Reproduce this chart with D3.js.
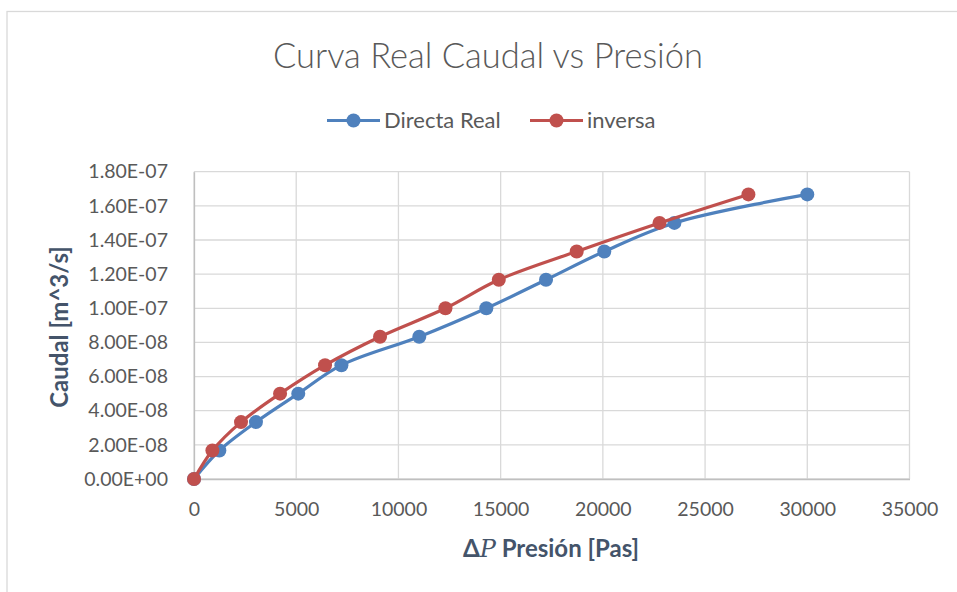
<!DOCTYPE html>
<html>
<head>
<meta charset="utf-8">
<script src="https://cdn.jsdelivr.net/npm/d3@7"></script>
<style>
  html, body { margin: 0; padding: 0; background: #fff; }
  svg { display: block; font-family: Lato, "Open Sans", sans-serif; }
</style>
</head>
<body>
<svg id="chart" width="957" height="592"></svg>
<script>
// Pressure drop [Pa] and flow rate [m^3/s] for each series
const directaPresion = [0, 1240, 3030, 5100, 7210, 11020, 14300, 17220, 20070, 23500, 30000];
const directaCaudal  = [0, 1.667e-8, 3.333e-8, 5.0e-8, 6.667e-8, 8.333e-8, 1.0e-7, 1.167e-7, 1.333e-7, 1.5e-7, 1.667e-7];
const inversaPresion = [0, 900, 2300, 4210, 6410, 9100, 12300, 14910, 18720, 22770, 27120];
const inversaCaudal  = [0, 1.667e-8, 3.333e-8, 5.0e-8, 6.667e-8, 8.333e-8, 1.0e-7, 1.167e-7, 1.333e-7, 1.5e-7, 1.667e-7];

const xTicks = [0, 5000, 10000, 15000, 20000, 25000, 30000, 35000];
const yTicks = [0, 2e-8, 4e-8, 6e-8, 8e-8, 1e-7, 1.2e-7, 1.4e-7, 1.6e-7, 1.8e-7];
const yTickLabels = ["0.00E+00", "2.00E-08", "4.00E-08", "6.00E-08", "8.00E-08",
                     "1.00E-07", "1.20E-07", "1.40E-07", "1.60E-07", "1.80E-07"];

const seriesNames = ["Directa Real", "inversa"];
const seriesColors = ["#4f81bd", "#c0504d"];

const series = [
  { name: seriesNames[0], color: seriesColors[0],
    pts: directaPresion.map((p, i) => [p, directaCaudal[i]]) },
  { name: seriesNames[1], color: seriesColors[1],
    pts: inversaPresion.map((p, i) => [p, inversaCaudal[i]]) }
];

const svg = d3.select("#chart");
const W = 957, H = 592;
const plot = { left: 194, right: 909.5, top: 171.7, bottom: 479 };

// chart frame
svg.append("rect")
  .attr("x", 7).attr("y", 11.5).attr("width", W + 10).attr("height", H + 10)
  .attr("fill", "#fff").attr("stroke", "#d9d9d9").attr("stroke-width", 1.3);

const x = d3.scaleLinear().domain([0, 35000]).range([plot.left, plot.right]);
const y = d3.scaleLinear().domain([0, 1.8e-7]).range([plot.bottom, plot.top]);

// gridlines
const grid = svg.append("g").attr("stroke", "#d9d9d9").attr("stroke-width", 1.3);
grid.selectAll("line.v").data(xTicks).join("line")
  .attr("x1", d => x(d)).attr("x2", d => x(d))
  .attr("y1", plot.top).attr("y2", plot.bottom);
grid.selectAll("line.h").data(yTicks).join("line")
  .attr("x1", plot.left).attr("x2", plot.right)
  .attr("y1", d => y(d)).attr("y2", d => y(d));

// axes
const xAxis = d3.axisBottom(x).tickValues(xTicks).tickSize(0).tickPadding(23)
  .tickFormat(d => String(d));
const gx = svg.append("g").attr("transform", `translate(0,${plot.bottom})`).call(xAxis);
gx.select(".domain").attr("stroke", "#bfbfbf").attr("stroke-width", 1.3);
gx.selectAll("text").attr("fill", "#595959").style("font-size", "19.5px")
  .style("font-family", "Lato, sans-serif");

const yAxis = d3.axisLeft(y).tickValues(yTicks).tickSize(0).tickPadding(26)
  .tickFormat((d, i) => yTickLabels[i]);
const gy = svg.append("g").attr("transform", `translate(${plot.left},0)`).call(yAxis);
gy.select(".domain").attr("stroke", "#bfbfbf").attr("stroke-width", 1.3);
gy.selectAll("text").attr("fill", "#595959").style("font-size", "19.5px")
  .style("font-family", "Lato, sans-serif");

// series lines and markers
const line = d3.line()
  .x(d => x(d[0])).y(d => y(d[1]))
  .curve(d3.curveCatmullRom.alpha(0.5));

series.forEach(s => {
  svg.append("path").datum(s.pts)
    .attr("d", line).attr("fill", "none")
    .attr("stroke", s.color).attr("stroke-width", 3.2)
    .attr("stroke-linejoin", "round").attr("stroke-linecap", "round");
  svg.append("g").selectAll("circle").data(s.pts).join("circle")
    .attr("cx", d => x(d[0])).attr("cy", d => y(d[1]))
    .attr("r", 7).attr("fill", s.color);
});

// title
svg.append("text")
  .attr("x", 488).attr("y", 68).attr("text-anchor", "middle")
  .attr("fill", "#595959").style("font-size", "34.5px").style("font-weight", 300)
  .text("Curva Real Caudal vs Presión");

// legend
const legendItems = [
  { name: seriesNames[0], color: seriesColors[0], x0: 327 },
  { name: seriesNames[1], color: seriesColors[1], x0: 530 }
];
const lg = svg.append("g");
legendItems.forEach(it => {
  lg.append("line").attr("x1", it.x0).attr("x2", it.x0 + 53)
    .attr("y1", 120.5).attr("y2", 120.5)
    .attr("stroke", it.color).attr("stroke-width", 3.2);
  lg.append("circle").attr("cx", it.x0 + 26.5).attr("cy", 120.5).attr("r", 7).attr("fill", it.color);
  lg.append("text").attr("x", it.x0 + 57).attr("y", 128)
    .attr("fill", "#595959").style("font-size", "22px").text(it.name);
});

// axis titles
const xt = svg.append("text")
  .attr("x", 551).attr("y", 557).attr("text-anchor", "middle")
  .attr("fill", "#44546a").style("font-size", "24px").style("font-weight", 700);
xt.append("tspan").text("Δ");
xt.append("tspan").style("font-style", "italic").style("font-family", "'DejaVu Serif', serif")
  .style("font-weight", 400).text("P");
xt.append("tspan").text(" Presión [Pas]");

svg.append("text")
  .attr("transform", "translate(68,327) rotate(-90)")
  .attr("text-anchor", "middle")
  .attr("fill", "#44546a").style("font-size", "24px").style("font-weight", 700)
  .text("Caudal [m^3/s]");
</script>
</body>
</html>
